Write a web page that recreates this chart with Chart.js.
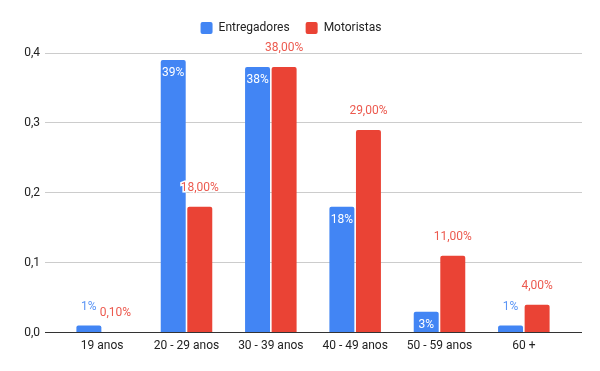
<!DOCTYPE html>
<html>
<head>
<meta charset="utf-8">
<script src="https://cdn.jsdelivr.net/npm/chart.js@4.4.0/dist/chart.umd.min.js"></script>
<style>
  html, body { margin: 0; padding: 0; background: #fff; }
</style>
</head>
<body>
<canvas id="barChart" width="600" height="371"></canvas>
<script>
const categories = ["19 anos", "20 - 29 anos", "30 - 39 anos", "40 - 49 anos", "50 - 59 anos", "60 +"];
const entregadores = [0.01, 0.39, 0.38, 0.18, 0.03, 0.01];
const motoristas = [0.001, 0.18, 0.38, 0.29, 0.11, 0.04];
const entregadoresLabels = ["1%", "39%", "38%", "18%", "3%", "1%"];
const motoristasLabels = ["0,10%", "18,00%", "38,00%", "29,00%", "11,00%", "4,00%"];
const yTickLabels = ["0,0", "0,1", "0,2", "0,3", "0,4"];

const BLUE = "#4285F4";
const RED = "#EA4335";

// draws the value labels like the sheets chart does
const valueLabels = {
    id: "valueLabels",
    afterDatasetsDraw(chart) {
        const ctx = chart.ctx;
        ctx.save();
        ctx.font = "12px Roboto";
        ctx.textAlign = "center";
        ctx.textBaseline = "middle";
        chart.data.datasets.forEach((ds, i) => {
            const meta = chart.getDatasetMeta(i);
            meta.data.forEach((bar, j) => {
                const h = bar.base - bar.y;
                let y, color;
                if (i === 0 && h > 18) {
                    y = bar.y + 13;
                    color = "#ffffff";
                } else {
                    y = bar.y - 19;
                    color = i === 0 ? "#5b95f5" : "#ec5a4f";
                }
                const text = ds.valueLabels[j];
                if (i === 1) {
                    ctx.lineWidth = 3;
                    ctx.strokeStyle = "#ffffff";
                    ctx.strokeText(text, bar.x, y);
                }
                ctx.fillStyle = color;
                ctx.fillText(text, bar.x, y);
            });
        });
        ctx.restore();
    }
};

// a bit more room under the legend
const legendSpace = {
    id: "legendSpace",
    beforeLayout(chart) {
        const legend = chart.legend;
        if (legend && !legend._patched) {
            const fit = legend.fit;
            legend.fit = function () {
                fit.call(this);
                this.height += 9;
            };
            legend._patched = true;
        }
    }
};

const gridColor = ctx => (ctx.tick && ctx.tick.value === 0 ? "#333" : "#ccc");

new Chart(document.getElementById("barChart"), {
    type: "bar",
    data: {
        labels: categories,
        datasets: [{
            label: "Entregadores",
            data: entregadores,
            valueLabels: entregadoresLabels,
            backgroundColor: BLUE,
            borderRadius: 2,
            categoryPercentage: 0.63,
            barPercentage: 0.94
        }, {
            label: "Motoristas",
            data: motoristas,
            valueLabels: motoristasLabels,
            backgroundColor: RED,
            borderRadius: 2,
            categoryPercentage: 0.63,
            barPercentage: 0.94
        }]
    },
    options: {
        responsive: false,
        animation: false,
        layout: { padding: { top: 6, right: 18, bottom: 12, left: 0 } },
        plugins: {
            legend: {
                position: "top",
                labels: {
                    font: { family: "Roboto", size: 12 },
                    color: "#222",
                    boxWidth: 12,
                    boxHeight: 12,
                    useBorderRadius: true,
                    borderRadius: 2,
                    padding: 16
                }
            },
            tooltip: { enabled: false }
        },
        scales: {
            x: {
                grid: { display: false, drawTicks: false },
                border: { display: false },
                ticks: { font: { family: "Roboto", size: 12 }, color: "#222", padding: 6 }
            },
            y: {
                min: 0,
                max: 0.4,
                afterFit(axis) { axis.width = 60; },
                border: { display: false },
                grid: { color: gridColor, tickColor: gridColor, tickLength: 15 },
                ticks: {
                    stepSize: 0.1,
                    padding: 5,
                    font: { family: "Roboto", size: 12 },
                    color: "#222",
                    callback: (v, i) => yTickLabels[i]
                }
            },
            y2: {
                position: "right",
                min: 0,
                max: 0.4,
                afterFit(axis) { axis.width = 16; },
                border: { display: false },
                grid: { drawOnChartArea: false, tickColor: gridColor, tickLength: 16 },
                ticks: { stepSize: 0.1, display: false }
            }
        }
    },
    plugins: [valueLabels, legendSpace]
});
</script>
</body>
</html>
